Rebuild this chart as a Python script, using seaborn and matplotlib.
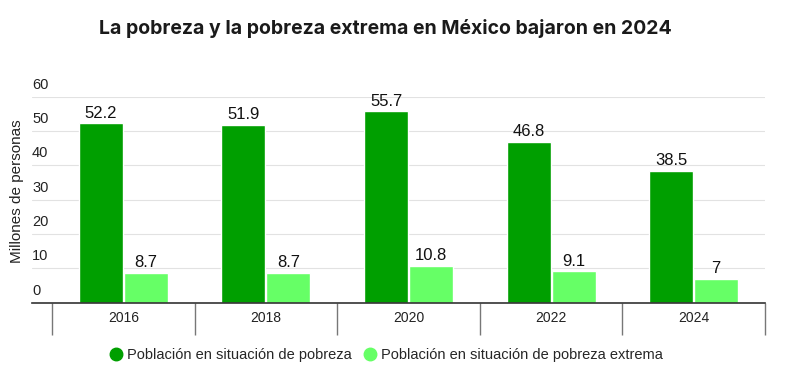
import pandas as pd
import seaborn as sns
import matplotlib.pyplot as plt
from matplotlib.lines import Line2D
from matplotlib.ticker import FixedLocator

# datos
years = ['2016', '2018', '2020', '2022', '2024']
pobreza = [52.2, 51.9, 55.7, 46.8, 38.5]
pobreza_extrema = [8.7, 8.7, 10.8, 9.1, 7]
series = ['Población en situación de pobreza', 'Población en situación de pobreza extrema']
colors = ['#009F00', '#66FF66']

df = pd.DataFrame({
    'Año': years * 2,
    'Valor': pobreza + pobreza_extrema,
    'Serie': [series[0]] * len(years) + [series[1]] * len(years),
})

sns.set_style('white')
plt.rcParams['font.family'] = ['Liberation Sans', 'DejaVu Sans']

fig = plt.figure(figsize=(7.85, 3.82), dpi=100)
ax = fig.add_axes([32 / 785, 79.3 / 382, 733 / 785, 206 / 382])

sns.barplot(data=df, x='Año', y='Valor', hue='Serie', palette=colors,
            width=0.63, gap=0.02, ax=ax, legend=False, saturation=1)

for cont in ax.containers:
    labels = ['{:g}'.format(v) for v in cont.datavalues]
    ax.bar_label(cont, labels=labels, padding=2, fontsize=12, color='#111111')

ax.set_xlim(-0.64, 4.5)
ax.set_ylim(0, 60)
ax.set_yticks(range(0, 61, 10))
ax.set_yticklabels([])
ax.tick_params(axis='y', length=0)
ax.grid(axis='y', color='#e2e2e2', linewidth=0.8)
ax.set_axisbelow(True)

for v in range(0, 61, 10):
    ax.text(0.0, v + 1.5, str(v), transform=ax.get_yaxis_transform(),
            ha='left', va='bottom', fontsize=10.5, color='#222222')

ax.tick_params(axis='x', which='major', bottom=False, length=0, pad=6,
               labelsize=10, labelcolor='#222222')
ax.xaxis.set_minor_locator(FixedLocator([i - 0.5 for i in range(len(years) + 1)]))
ax.tick_params(axis='x', which='minor', bottom=True, direction='out',
               length=23, width=1, color='#777777')

for s in ['top', 'right', 'left']:
    ax.spines[s].set_visible(False)
ax.spines['bottom'].set_color('#333333')
ax.spines['bottom'].set_linewidth(1.2)
ax.set_xlabel('')
ax.set_ylabel('')

fig.text(17 / 785, 1 - 191 / 382, 'Millones de personas', rotation=90,
         ha='center', va='center', fontsize=11, color='#222222')

fig.text(385 / 785, 1 - 28 / 382, 'La pobreza y la pobreza extrema en México bajaron en 2024',
         ha='center', va='center', fontsize=14, fontweight='bold', color='#1a1a1a',
         family=['Inter', 'DejaVu Sans'])

handles = [Line2D([], [], marker='o', linestyle='', markersize=9,
                  markerfacecolor=c, markeredgecolor=c) for c in colors]
fig.legend(handles, series, loc='center', bbox_to_anchor=(385 / 785, 1 - 355 / 382),
           ncol=2, frameon=False, fontsize=10.5, handletextpad=0.2, columnspacing=0.6,
           handlelength=1.2)

fig.savefig('out.png', dpi=100)
